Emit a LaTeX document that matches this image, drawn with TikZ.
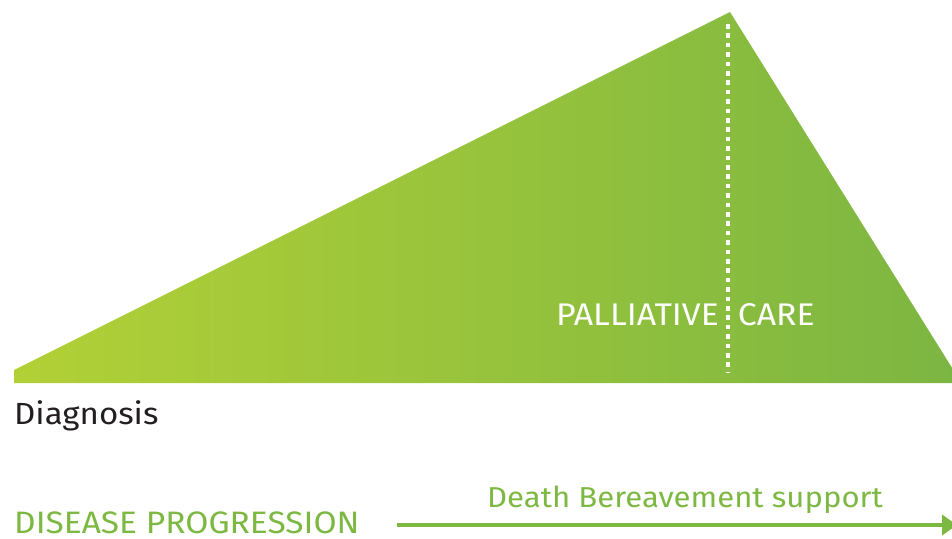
\documentclass[tikz,border=0pt]{standalone}
\usepackage{fontspec}
\setmainfont[FakeStretch=1.08]{Fira Sans}
\usetikzlibrary{arrows.meta}
\definecolor{gleft}{RGB}{178,208,54}
\definecolor{gright}{RGB}{124,182,66}
\definecolor{txtgreen}{RGB}{125,184,66}
\definecolor{txtdark}{RGB}{35,31,32}
\tikzset{
  lbl/.style={inner sep=0pt, anchor=base west},
  dotline/.style={draw=white, line width=4.5pt, dash pattern=on 4.6pt off 4.8pt},
  progarrow/.style={draw=txtgreen, line width=4.5pt, -{Triangle[length=15pt,width=20pt]}}
}
\begin{document}
\begin{tikzpicture}[x=1pt,y=-1pt]
\useasboundingbox (0,0) rectangle (952,538);
% triangle
\shade[left color=gleft, right color=gright]
  (14,383) -- (14,370) -- (730,12) -- (954,371) -- (954,383) -- cycle;
% dotted divider
\coordinate (dtop) at (728,24);
\coordinate (dbot) at (728,373);
\draw[dotline] (dtop) -- (dbot);
% labels
\node[lbl, text=white, font=\fontsize{31.3}{33}\selectfont] (pall) at (556,325) {PALLIATIVE\hspace{19pt}CARE};
\node[lbl, text=txtdark, font=\fontsize{30.6}{32}\selectfont] (diag) at (14,424) {Diagnosis};
\node[lbl, text=txtgreen, font=\fontsize{31}{32}\selectfont] (dis) at (14,533) {DISEASE PROGRESSION};
\node[lbl, text=txtgreen, font=\fontsize{28.8}{30}\selectfont] (death) at (487,507) {Death Bereavement support};
% arrow
\coordinate (astart) at (397,525);
\coordinate (aend) at (957,525);
\draw[progarrow] (astart) -- (aend);
\end{tikzpicture}
\end{document}
